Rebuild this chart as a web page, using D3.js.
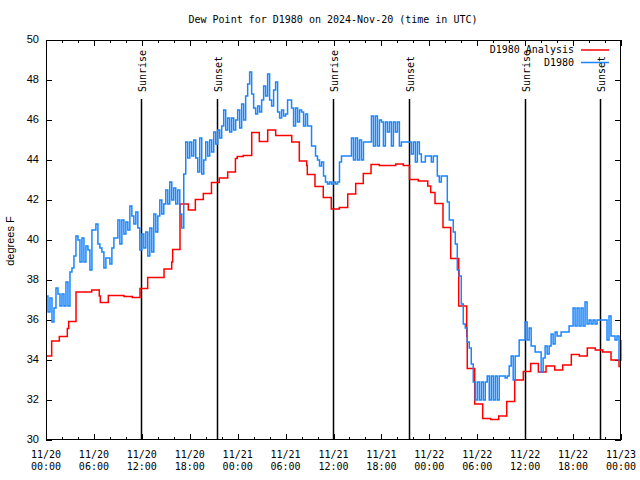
<!DOCTYPE html>
<html><head><meta charset="utf-8">
<script src="https://cdn.jsdelivr.net/npm/d3@7"></script>
<style>body{margin:0;background:#fff}</style>
</head><body>
<svg id="c" width="640" height="480"></svg>
<script>
const titleText = "Dew Point for D1980 on 2024-Nov-20 (time in UTC)";
const yLabel = "degrees F";
const yTicks = [30, 32, 34, 36, 38, 40, 42, 44, 46, 48, 50];
const xStart = "2024-11-20T00:00:00Z";
const xEnd = "2024-11-23T00:00:00Z";
const seriesNames = ["D1980 Analysis", "D1980"];

const sunLabels = ["Sunrise", "Sunset", "Sunrise", "Sunset", "Sunrise", "Sunset"];
const sunTimes = ["2024-11-20T11:56Z", "2024-11-20T21:27Z", "2024-11-21T11:59Z",
                  "2024-11-21T21:29Z", "2024-11-22T12:01Z", "2024-11-22T21:25Z"];

// analysis: change times (hours after 11/20 00:00 UTC) and values
const redHours = [0, 0.71, 1.67, 2.67, 2.84, 3.76, 5.72, 6.67, 6.8, 7.8, 9.77, 10.8, 11.77, 12.73,
  14.78, 15.74, 15.86, 16.78, 17.82, 18.7, 19.7, 20.72, 21.7, 22.75, 23.72, 23.95, 24.7, 25.76,
  26.71, 27.76, 28.76, 30.77, 31.72, 32.65, 32.72, 33.68, 34.72, 35.72, 36.73, 37.78, 38.78,
  39.73, 40.7, 41.74, 43.79, 44.74, 45.52, 46.62, 47.8, 48.17, 48.71, 49.71, 50.68, 51.68,
  52.68, 52.75, 53.68, 54.68, 55.68, 56.69, 57.69, 58.69, 59.77, 60.69, 61.65, 62.61, 63.7,
  64.7, 65.78, 66.78, 67.78, 68.78, 69.71, 70.75, 71.75, 72];
const redValues = [34.2, 34.95, 35.18, 35.58, 35.93, 37.4, 37.5, 37.2, 36.88, 37.23, 37.18, 37.13, 37.58, 38.13,
  38.55, 38.9, 39.53, 41.8, 41.5, 42.03, 42.32, 42.87, 43.1, 43.4, 44.08, 44.17, 44.23, 45.37,
  44.93, 45.5, 45.23, 44.9, 43.95, 43.72, 43.28, 42.68, 42.13, 41.55, 41.63, 42.3, 42.83,
  43.33, 43.78, 43.73, 43.8, 43.73, 43.03, 42.95, 42.7, 42.37, 41.83, 40.63, 39.08, 36.7,
  35.17, 33.58, 31.8, 31.08, 31.03, 31.2, 31.93, 33.0, 33.43, 33.83, 33.4, 33.7, 33.5,
  33.75, 34.27, 34.2, 34.6, 34.5, 34.4, 34.0, 33.67, 33.67];

// observations, one value every 15 minutes from 11/20 00:00 UTC
const blueValues = [
  37.2, 36.4, 37.1, 35.9,  36.6, 37.6, 37.3, 36.7,  37.3, 36.7, 37.9, 36.7,  38.4, 38.6, 39.2, 40.2,
  40.0, 38.9, 40.1, 38.9,  39.7, 39.5, 38.5, 40.5,  40.5, 40.8, 39.8, 39.6,  39.4, 38.6, 39.1, 39.1,
  38.8, 39.6, 40.1, 40.1,  41.0, 39.8, 41.0, 40.3,  40.9, 40.5, 41.7, 41.2,  40.8, 41.4, 40.6, 39.5,
  40.3, 39.6, 40.4, 39.2,  40.6, 39.4, 41.3, 40.4,  41.2, 42.0, 41.3, 41.8,  42.5, 41.8, 42.9, 42.0,
  42.6, 41.8, 42.5, 41.3,  40.6, 43.3, 44.9, 44.1,  44.9, 44.2, 45.0, 44.1,  43.4, 45.1, 43.3, 44.0,
  44.9, 44.2, 45.0, 44.4,  45.4, 44.8, 45.5, 45.1,  45.7, 46.5, 45.5, 46.1,  45.4, 46.1, 45.5, 46.0,
  46.5, 45.6, 46.8, 46.0,  47.2, 47.8, 48.4, 47.3,  46.6, 46.3, 46.7, 46.4,  47.0, 47.7, 47.2, 48.3,
  47.0, 46.7, 47.5, 47.9,  46.4, 46.1, 46.5, 46.2,  46.3, 47.0, 47.0, 46.6,  45.7, 46.6, 45.9, 46.5,
  46.4, 45.7, 46.3, 45.7,  45.7, 44.7, 44.7, 44.2,  44.0, 43.7, 43.9, 43.2,  42.9, 42.8, 42.9, 42.8,
  42.9, 42.8, 42.9, 43.9,  44.2, 44.2, 44.2, 44.2,  44.2, 45.1, 44.0, 45.1,  44.0, 45.0, 44.0, 44.9,
  44.9, 44.9, 44.9, 46.2,  44.7, 46.2, 44.7, 46.0,  45.9, 44.7, 45.9, 45.4,  45.9, 44.7, 45.9, 45.4,
  45.9, 44.7, 44.9, 44.9,  44.9, 44.9, 44.9, 44.3,  44.9, 43.9, 44.9, 44.3,  43.9, 43.9, 44.2, 44.2,
  44.2, 43.9, 44.2, 44.2,  43.2, 42.9, 43.2, 43.2,  43.2, 41.9, 41.0, 41.0,  40.4, 39.8, 38.5, 38.2,
  36.8, 35.8, 35.6, 34.9,  34.6, 33.8, 32.9, 32.0,  32.9, 32.0, 32.9, 32.0,  32.9, 33.2, 32.0, 33.2,
  32.0, 33.2, 32.0, 33.2,  33.2, 33.2, 33.1, 33.2,  33.7, 34.2, 33.0, 34.2,  34.2, 35.0, 35.0, 35.0,
  35.9, 35.0, 35.6, 34.7,  34.7, 34.4, 34.4, 34.4,  33.4, 34.1, 34.7, 34.3,  34.7, 35.3, 34.8, 35.4,
  35.2, 35.2, 35.4, 35.4,  35.4, 35.4, 35.7, 35.7,  36.6, 35.7, 36.6, 35.7,  36.6, 35.7, 36.9, 35.8,
  36.0, 35.8, 36.0, 35.8,  36.0, 36.0, 36.0, 36.0,  36.0, 35.0, 36.2, 35.2,  35.2, 35.0, 35.2, 34.0,
  35.0];

const svg = d3.select("#c");
const L = 46, R = 621, T = 40, B = 440;
const mono = "'DejaVu Sans Mono', 'Liberation Mono', monospace";
const sans = "'Liberation Sans', Arial, sans-serif";
const t0 = new Date(xStart), t1 = new Date(xEnd);
const x = d3.scaleUtc().domain([t0, t1]).range([L, R]);
const y = d3.scaleLinear().domain([30, 50]).range([B, T]);
const hrs = h => new Date(t0.getTime() + h * 3600000);

const redData = redHours.map((h, i) => ({t: hrs(h), v: redValues[i]}));
const blueData = blueValues.map((v, i) => ({t: hrs(i * 0.25), v}));

// title
svg.append("text").attr("x", 333).attr("y", 20).attr("text-anchor", "middle")
  .attr("dominant-baseline", "middle").style("font", "10px " + mono).text(titleText);

// y label
svg.append("text").attr("transform", "translate(11,241) rotate(-90)")
  .attr("text-anchor", "middle").attr("dominant-baseline", "middle")
  .style("font", "11px " + sans).text(yLabel);

// ticks
const g = svg.append("g").attr("stroke", "#000").attr("stroke-width", 1).attr("shape-rendering", "crispEdges");
const minor = d3.utcHour.every(2).range(t0, new Date(t1.getTime() + 1));
minor.forEach(d => {
  const major = d.getUTCHours() % 6 === 0;
  const len = major ? 6 : 3;
  const xx = Math.round(x(d)) + 0.5;
  g.append("line").attr("x1", xx).attr("x2", xx).attr("y1", B).attr("y2", B - len);
  g.append("line").attr("x1", xx).attr("x2", xx).attr("y1", T).attr("y2", T + len);
});
yTicks.forEach(v => {
  const yy = Math.round(y(v)) + 0.5;
  g.append("line").attr("x1", L).attr("x2", L + 6).attr("y1", yy).attr("y2", yy);
  g.append("line").attr("x1", R).attr("x2", R - 6).attr("y1", yy).attr("y2", yy);
});

// y tick labels
svg.append("g").selectAll("text").data(yTicks).join("text")
  .attr("x", 39).attr("y", d => y(d)).attr("text-anchor", "end").attr("dominant-baseline", "middle")
  .style("font", "11px " + sans).text(d => d);

// x tick labels
const majors = d3.utcHour.every(6).range(t0, new Date(t1.getTime() + 1));
const fmtD = d3.utcFormat("%m/%d"), fmtH = d3.utcFormat("%H:%M");
const xl = svg.append("g").style("font", "10px " + mono).attr("text-anchor", "middle");
majors.forEach(d => {
  xl.append("text").attr("x", x(d)).attr("y", 455).attr("dominant-baseline", "middle").text(fmtD(d));
  xl.append("text").attr("x", x(d)).attr("y", 467).attr("dominant-baseline", "middle").text(fmtH(d));
});

// sunrise / sunset lines
sunTimes.forEach((s, i) => {
  const xx = Math.round(x(new Date(s))) + 0.5;
  svg.append("line").attr("x1", xx).attr("x2", xx).attr("y1", 99).attr("y2", B)
    .attr("stroke", "#000").attr("stroke-width", 1.5);
  svg.append("text").attr("transform", `translate(${xx + 1},92) rotate(-90)`)
    .attr("dominant-baseline", "middle").style("font", "10px " + mono).text(sunLabels[i]);
});

// series
const line = d3.line().x(d => x(d.t)).y(d => y(d.v)).curve(d3.curveStepAfter);
svg.append("path").datum(redData).attr("d", line).attr("fill", "none")
  .attr("stroke", "#ff0000").attr("stroke-width", 1.5);
svg.append("path").datum(blueData).attr("d", line).attr("fill", "none")
  .attr("stroke", "#1a85ff").attr("stroke-width", 1.5);

// legend
const lg = svg.append("g").style("font", "10px " + mono);
const colors = ["#ff0000", "#1a85ff"];
seriesNames.forEach((n, i) => {
  const yy = 50 + i * 12.5;
  lg.append("text").attr("x", 574).attr("y", yy).attr("text-anchor", "end")
    .attr("dominant-baseline", "middle").text(n);
  lg.append("line").attr("x1", 581).attr("x2", 609).attr("y1", yy).attr("y2", yy)
    .attr("stroke", colors[i]).attr("stroke-width", 1.5);
});

// frame
svg.append("rect").attr("x", L + 0.5).attr("y", T + 0.5).attr("width", R - L - 1).attr("height", B - T - 1)
  .attr("fill", "none").attr("stroke", "#000").attr("stroke-width", 1).attr("shape-rendering", "crispEdges");
</script>
</body></html>
